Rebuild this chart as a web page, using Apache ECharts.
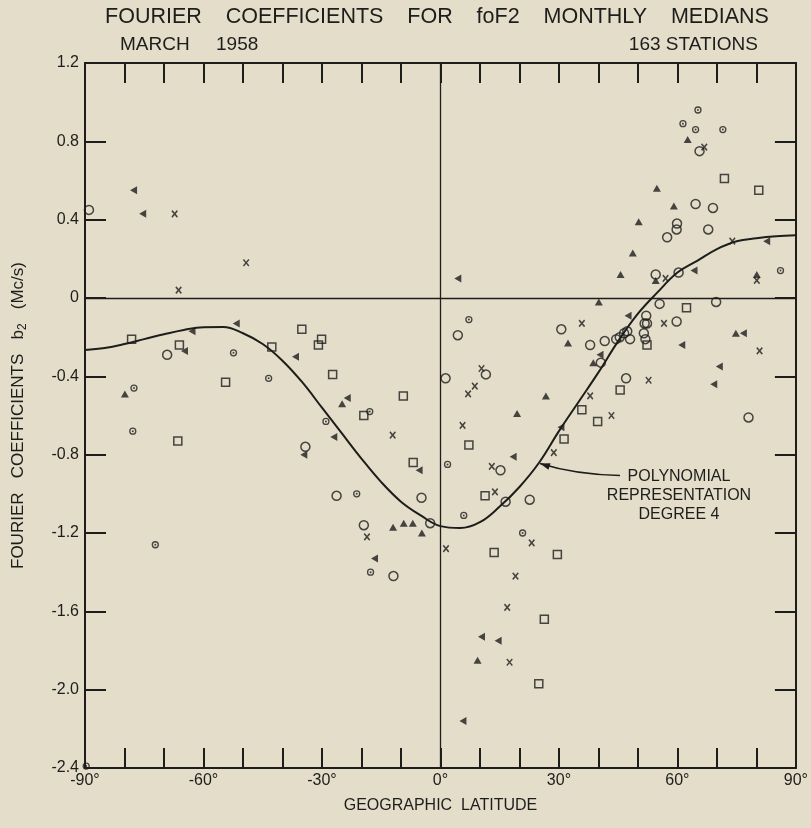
<!DOCTYPE html>
<html><head><meta charset="utf-8">
<script src="https://cdn.jsdelivr.net/npm/echarts@6/dist/echarts.min.js"></script>
<style>html,body{margin:0;padding:0;background:#e3ddca;}#c{width:811px;height:828px;}</style>
</head><body><div id="c"></div>
<script>
// ---- data (latitude in degrees, b2 in Mc/s) ----
const curveLat = [-90,-85,-80,-75,-70,-65,-60,-55,-50,-45,-40,-35,-30,-25,-20,-15,-10,-5,0,5,10,15,20,25,30,35,40,45,50,55,60,65,70,75,80,85,90];
const curveB2  = [-0.265,-0.255,-0.235,-0.21,-0.185,-0.163,-0.149,-0.148,-0.18,-0.235,-0.32,-0.43,-0.56,-0.69,-0.82,-0.94,-1.04,-1.11,-1.165,-1.175,-1.145,-1.065,-0.965,-0.84,-0.68,-0.53,-0.38,-0.22,-0.08,0.03,0.13,0.19,0.25,0.29,0.305,0.315,0.32];

const openCircles = [[-89.0,0.45],[-69.2,-0.29],[-34.2,-0.76],[-26.3,-1.01],[-4.8,-1.02],[-19.4,-1.16],[-11.9,-1.42],[-2.6,-1.15],[1.3,-0.41],[4.4,-0.19],[11.5,-0.39],[15.2,-0.88],[16.5,-1.04],[22.6,-1.03],[30.6,-0.16],[37.9,-0.24],[41.6,-0.22],[40.6,-0.33],[47.0,-0.41],[44.5,-0.21],[45.4,-0.20],[46.5,-0.18],[47.3,-0.17],[48.0,-0.21],[51.5,-0.18],[51.9,-0.21],[52.1,-0.09],[51.7,-0.13],[52.3,-0.13],[59.8,-0.12],[55.5,-0.03],[69.8,-0.02],[54.5,0.12],[60.3,0.13],[57.4,0.31],[59.9,0.38],[59.8,0.35],[67.8,0.35],[64.6,0.48],[69.0,0.46],[65.6,0.75],[78.0,-0.61]];
const dotCircles = [[-52.4,-0.28],[-43.5,-0.41],[-77.6,-0.46],[-77.9,-0.68],[-29.0,-0.63],[-17.9,-0.58],[-21.2,-1.00],[-17.7,-1.40],[-72.2,-1.26],[1.8,-0.85],[7.2,-0.11],[20.8,-1.20],[5.9,-1.11],[65.2,0.96],[61.4,0.89],[64.6,0.86],[71.5,0.86],[86.1,0.14],[-89.7,-2.39]];
const squares = [[-78.2,-0.21],[-66.1,-0.24],[-42.7,-0.25],[-54.4,-0.43],[-66.5,-0.73],[-35.1,-0.16],[-30.1,-0.21],[-30.9,-0.24],[-27.3,-0.39],[-19.4,-0.60],[-9.4,-0.50],[-6.9,-0.84],[7.2,-0.75],[11.3,-1.01],[13.6,-1.30],[29.6,-1.31],[26.3,-1.64],[24.9,-1.97],[31.3,-0.72],[35.8,-0.57],[39.8,-0.63],[45.5,-0.47],[52.3,-0.24],[62.3,-0.05],[71.9,0.61],[80.6,0.55]];
const crosses = [[-67.3,0.43],[-49.2,0.18],[-66.3,0.04],[-12.1,-0.70],[-18.6,-1.22],[1.4,-1.28],[5.6,-0.65],[7.0,-0.49],[8.7,-0.45],[10.4,-0.36],[13.0,-0.86],[13.8,-0.99],[16.9,-1.58],[17.5,-1.86],[19.0,-1.42],[23.1,-1.25],[28.7,-0.79],[35.8,-0.13],[37.9,-0.50],[43.3,-0.60],[52.7,-0.42],[56.6,-0.13],[57.0,0.10],[66.8,0.77],[73.9,0.29],[80.1,0.09],[80.8,-0.27]];
const triUp = [[-79.9,-0.49],[-24.9,-0.54],[-12.0,-1.17],[-9.3,-1.15],[-7.0,-1.15],[-4.7,-1.20],[9.4,-1.85],[19.4,-0.59],[26.7,-0.50],[32.3,-0.23],[38.7,-0.33],[40.1,-0.02],[45.6,0.12],[48.7,0.23],[50.2,0.39],[54.5,0.09],[54.8,0.56],[59.1,0.47],[62.6,0.81],[74.8,-0.18],[80.1,0.12]];
const triLeft = [[-77.7,0.55],[-75.4,0.43],[-64.8,-0.27],[-62.9,-0.17],[-51.7,-0.13],[-36.7,-0.30],[-34.6,-0.80],[-27.0,-0.71],[-23.6,-0.51],[-16.7,-1.33],[-5.4,-0.88],[4.4,0.10],[5.7,-2.16],[10.4,-1.73],[14.6,-1.75],[18.4,-0.81],[30.5,-0.66],[40.4,-0.29],[47.5,-0.09],[61.1,-0.24],[64.2,0.14],[69.2,-0.44],[70.6,-0.35],[76.7,-0.18],[82.6,0.29]];

const titleText = 'FOURIER    COEFFICIENTS    FOR    foF2    MONTHLY    MEDIANS';
const subLeft = 'MARCH     1958';
const subRight = '163 STATIONS';
const xName = 'GEOGRAPHIC  LATITUDE';
const yName = 'FOURIER   COEFFICIENTS   b{s|2}   (Mc/s)';
const noteLines = ['POLYNOMIAL', 'REPRESENTATION', 'DEGREE 4'];

// ---- style ----
const FONT = '"Liberation Sans", Arial, sans-serif';
const INK = '#1d1d1b';
const hollow = {color: 'rgba(0,0,0,0)', borderColor: INK, borderWidth: 1.5};

const chart = echarts.init(document.getElementById('c'), null, {renderer: 'canvas'});
const axisCommon = {
  type: 'value', min: -90, max: 90, interval: 10,
  axisLine: {show: true, onZero: false, lineStyle: {color: INK, width: 2}},
  axisTick: {show: true, inside: true, length: 20, lineStyle: {color: INK, width: 2}},
  splitLine: {show: false}
};
const yCommon = {
  type: 'value', min: -2.4, max: 1.2, interval: 0.4,
  axisLine: {show: true, onZero: false, lineStyle: {color: INK, width: 2}},
  axisTick: {show: true, inside: true, length: 21, lineStyle: {color: INK, width: 2}},
  splitLine: {show: false}
};
const option = {
  backgroundColor: '#e3ddca',
  animation: false,
  textStyle: {fontFamily: FONT, color: INK},
  title: [
    {text: titleText, left: 437, top: 6, padding: 0, textAlign: 'center',
     textStyle: {fontSize: 21.5, fontWeight: 'normal', color: INK, fontFamily: FONT}},
    {text: subLeft, left: 120, top: 35, padding: 0,
     textStyle: {fontSize: 19, fontWeight: 'normal', color: INK, fontFamily: FONT}},
    {text: subRight, right: 53, top: 35, padding: 0,
     textStyle: {fontSize: 19, fontWeight: 'normal', color: INK, fontFamily: FONT}}
  ],
  grid: {left: 85, right: 13, top: 63, bottom: 60},
  xAxis: [
    Object.assign({}, axisCommon, {
      position: 'bottom',
      axisLabel: {formatter: v => (Math.round(v) % 30 === 0 ? Math.round(v) + '°' : ''), color: INK, fontSize: 16, margin: 5, fontFamily: FONT},
      name: xName, nameLocation: 'middle', nameGap: 30,
      nameTextStyle: {fontSize: 16, color: INK, fontFamily: FONT}
    }),
    Object.assign({}, axisCommon, {position: 'top', axisLabel: {show: false}})
  ],
  yAxis: [
    Object.assign({}, yCommon, {
      position: 'left',
      axisLabel: {formatter: v => (Math.abs(v) < 1e-9 ? '0' : v.toFixed(1)), color: INK, fontSize: 16, margin: 6, fontFamily: FONT},
      name: yName, nameLocation: 'middle', nameGap: 56,
      nameTextStyle: {fontSize: 17, color: INK, fontFamily: FONT,
        rich: {s: {fontSize: 12, color: INK, fontFamily: FONT, padding: [9, 0, 0, 0]}}}
    }),
    Object.assign({}, yCommon, {position: 'right', axisLabel: {show: false}})
  ],
  series: [
    {type: 'line', name: 'fit', data: curveLat.map((x, i) => [x, curveB2[i]]), smooth: 0.4,
     symbol: 'none', lineStyle: {color: INK, width: 2}, z: 2,
     markLine: {silent: true, symbol: 'none', label: {show: false},
       lineStyle: {color: INK, width: 1.3, type: 'solid'},
       data: [{yAxis: 0}, {xAxis: 0}]}},
    {type: 'scatter', data: openCircles, symbol: 'circle', symbolSize: 9, itemStyle: hollow, z: 3},
    {type: 'scatter', data: dotCircles, symbol: 'circle', symbolSize: 6, itemStyle: {color: 'rgba(0,0,0,0)', borderColor: INK, borderWidth: 1.3}, z: 3},
    {type: 'scatter', data: dotCircles, symbol: 'circle', symbolSize: 2, itemStyle: {color: INK}, z: 3},
    {type: 'scatter', data: squares, symbol: 'rect', symbolSize: 8, itemStyle: hollow, z: 3},
    {type: 'scatter', data: crosses, symbol: 'path://M0,0L10,10M10,0L0,10', symbolSize: [5.5, 6.5], itemStyle: {color: 'rgba(0,0,0,0)', borderColor: INK, borderWidth: 1.6}, z: 3},
    {type: 'scatter', data: triUp, symbol: 'triangle', symbolSize: [8, 7], itemStyle: {color: INK}, z: 3},
    {type: 'scatter', data: triLeft, symbol: 'triangle', symbolRotate: 90, symbolSize: [8, 7], itemStyle: {color: INK}, z: 3}
  ]
};
chart.setOption(option);

// annotation with arrow pointing to the fitted curve
const tip = chart.convertToPixel({gridIndex: 0}, [25.2, -0.845]);
const tx = tip[0], ty = tip[1];
const tail = [tx + 80, ty + 12];
const ctrl = [tx + 35, ty + 11];
const ang = Math.atan2(ty - ctrl[1], tx - ctrl[0]);
const ah = 10, aw = 3.5;
const bx = tx - ah * Math.cos(ang), by = ty - ah * Math.sin(ang);
const head = [[tx, ty], [bx + aw * Math.sin(ang), by - aw * Math.cos(ang)], [bx - aw * Math.sin(ang), by + aw * Math.cos(ang)]];
const textX = tx + 139;
const noteStyle = {fontSize: 16, fontFamily: FONT, fill: INK, textAlign: 'center', textVerticalAlign: 'middle'};
chart.setOption({
  graphic: [
    {type: 'bezierCurve', shape: {x1: tail[0], y1: tail[1], x2: tx, y2: ty, cpx1: ctrl[0], cpy1: ctrl[1]},
     style: {stroke: INK, lineWidth: 1.5, fill: null}, z: 10},
    {type: 'polygon', shape: {points: head}, style: {fill: INK}, z: 10},
    {type: 'text', x: textX, y: ty + 13, style: Object.assign({text: noteLines[0]}, noteStyle), z: 10},
    {type: 'text', x: textX, y: ty + 32, style: Object.assign({text: noteLines[1]}, noteStyle), z: 10},
    {type: 'text', x: textX, y: ty + 51, style: Object.assign({text: noteLines[2]}, noteStyle), z: 10}
  ]
});
</script></body></html>
